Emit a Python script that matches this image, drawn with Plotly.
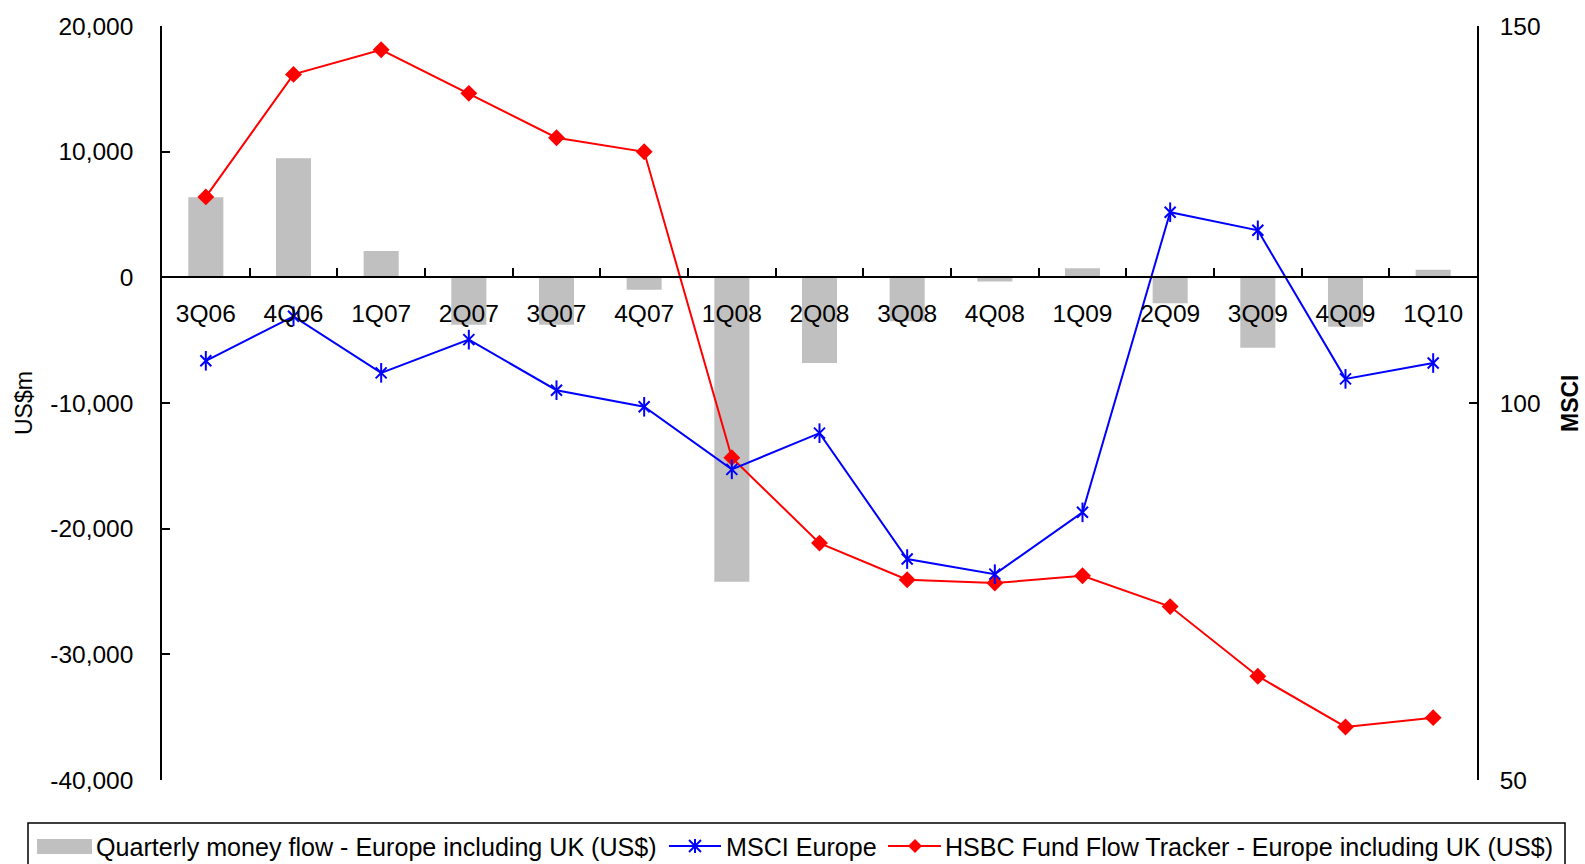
import plotly.graph_objects as go

# Quarterly data
quarters = ["3Q06", "4Q06", "1Q07", "2Q07", "3Q07", "4Q07", "1Q08", "2Q08",
            "3Q08", "4Q08", "1Q09", "2Q09", "3Q09", "4Q09", "1Q10"]
money_flow = [6370, 9480, 2100, -3770, -3770, -990, -24220, -6810,
              -3500, -330, 730, -2060, -5600, -3930, 600]
fund_flow_tracker = [6400, 16150, 18110, 14640, 11110, 9990, -14350, -21150,
                     -24060, -24330, -23750, -26200, -31740, -35780, -35040]
msci_europe = [105.6, 111.5, 104.0, 108.4, 101.7, 99.5, 91.2, 96.0,
               79.3, 77.3, 85.5, 125.3, 122.9, 103.2, 105.3]

# Axis ticks
usd_tickvals = [-40000, -30000, -20000, -10000, 0, 10000, 20000]
usd_ticktext = ["-40,000", "-30,000", "-20,000", "-10,000", "0", "10,000", "20,000"]
msci_tickvals = [50, 100, 150]

# Legend labels
name_flow = "Quarterly money flow - Europe including UK (US$)"
name_msci = "MSCI Europe"
name_tracker = "HSBC Fund Flow Tracker - Europe including UK (US$)"

FONT = "Liberation Sans, Arial, sans-serif"
FS = 24.5
LEGEND_FS = 25.1
BLUE = "#0000FF"
RED = "#FF0000"
GREY = "#C0C0C0"

W, H = 1585, 864
ML, MR, MT, MB = 162, 108, 26, 84
PW, PH = W - ML - MR, H - MT - MB


def px(x):
    """Horizontal page pixel -> paper fraction."""
    return (x - ML) / PW


def py(y):
    """Vertical page pixel (from top) -> paper fraction."""
    return (H - MB - y) / PH


fig = go.Figure()

fig.add_trace(go.Bar(
    x=quarters, y=money_flow, name=name_flow,
    marker=dict(color=GREY, line=dict(width=0)),
    width=0.4, yaxis="y",
))

fig.add_trace(go.Scatter(
    x=quarters, y=msci_europe, name=name_msci, yaxis="y2",
    mode="lines+markers",
    line=dict(color=BLUE, width=2),
    marker=dict(symbol="x-thin-open", size=11, color=BLUE,
                line=dict(color=BLUE, width=2)),
))
# vertical stroke completing the six-armed star marker
fig.add_trace(go.Scatter(
    x=quarters, y=msci_europe, yaxis="y2", mode="markers", showlegend=False,
    hoverinfo="skip",
    marker=dict(symbol="line-ns-open", size=14, color=BLUE,
                line=dict(color=BLUE, width=2)),
))

fig.add_trace(go.Scatter(
    x=quarters, y=fund_flow_tracker, name=name_tracker, yaxis="y",
    mode="lines+markers",
    line=dict(color=RED, width=2),
    marker=dict(symbol="diamond", size=13, color=RED),
))

# ---- legend box drawn below the plot ----
shapes = []
annotations = []
LY = 846  # legend row centre line (page px)

shapes.append(dict(type="rect", xref="paper", yref="paper",
                   x0=px(28), x1=px(1565), y0=py(823), y1=py(880),
                   line=dict(color="black", width=1.5), fillcolor="rgba(0,0,0,0)"))
# bar swatch
shapes.append(dict(type="rect", xref="paper", yref="paper",
                   x0=px(37), x1=px(92), y0=py(839), y1=py(854),
                   line=dict(width=0), fillcolor=GREY))
# MSCI line + star
shapes.append(dict(type="line", xref="paper", yref="paper",
                   x0=px(669), x1=px(721), y0=py(LY), y1=py(LY),
                   line=dict(color=BLUE, width=2)))
sx, s = 695, 6
for dx0, dy0, dx1, dy1 in [(-s, -s, s, s), (-s, s, s, -s), (0, -s - 1, 0, s + 1)]:
    shapes.append(dict(type="line", xref="paper", yref="paper",
                       x0=px(sx + dx0), x1=px(sx + dx1),
                       y0=py(LY + dy0), y1=py(LY + dy1),
                       line=dict(color=BLUE, width=2)))
# tracker line + diamond
shapes.append(dict(type="line", xref="paper", yref="paper",
                   x0=px(888), x1=px(941), y0=py(LY), y1=py(LY),
                   line=dict(color=RED, width=2)))
dx, d = 915, 7
shapes.append(dict(type="path", xref="paper", yref="paper",
                   path=(f"M {px(dx - d)},{py(LY)} L {px(dx)},{py(LY - d)} "
                         f"L {px(dx + d)},{py(LY)} L {px(dx)},{py(LY + d)} Z"),
                   fillcolor=RED, line=dict(color=RED, width=0)))

for text, x0 in [(name_flow, 94), (name_msci, 724), (name_tracker, 943)]:
    annotations.append(dict(text=text, xref="paper", yref="paper",
                            x=px(x0), y=py(LY + 1), xanchor="left", yanchor="middle",
                            showarrow=False, font=dict(size=LEGEND_FS)))

# axis titles
annotations.append(dict(text="US$m", xref="paper", yref="paper", x=px(24), y=0.5,
                        textangle=-90, showarrow=False, font=dict(size=23),
                        xanchor="center", yanchor="middle"))
annotations.append(dict(text="<b>MSCI</b>", xref="paper", yref="paper", x=px(1570), y=0.5,
                        textangle=-90, showarrow=False, font=dict(size=23),
                        xanchor="center", yanchor="middle"))

fig.update_layout(
    width=W, height=H,
    margin=dict(l=ML, r=MR, t=MT, b=MB, autoexpand=False),
    paper_bgcolor="white", plot_bgcolor="white",
    font=dict(family=FONT, size=FS, color="black"),
    showlegend=False,
    xaxis=dict(
        type="category", range=[-0.5, len(quarters) - 0.5],
        anchor="free", position=2 / 3,
        showline=True, linecolor="black", linewidth=2,
        ticks="inside", ticklen=8, tickwidth=1.5, tickcolor="black",
        tickson="boundaries",
        ticklabelstandoff=14,
        showgrid=False, zeroline=False,
    ),
    yaxis=dict(
        range=[-40000, 20000], tickvals=usd_tickvals, ticktext=usd_ticktext,
        showline=True, linecolor="black", linewidth=1.5,
        ticks="inside", ticklen=8, tickwidth=1.5, tickcolor="black",
        ticklabelstandoff=22,
        showgrid=False, zeroline=False,
        domain=[0, 1],
    ),
    yaxis2=dict(
        range=[50, 150], tickvals=msci_tickvals, overlaying="y", side="right",
        showline=True, linecolor="black", linewidth=1.5,
        ticks="inside", ticklen=8, tickwidth=1.5, tickcolor="black",
        ticklabelstandoff=16,
        showgrid=False, zeroline=False,
    ),
    shapes=shapes,
    annotations=annotations,
)

fig.write_html("out.html")
